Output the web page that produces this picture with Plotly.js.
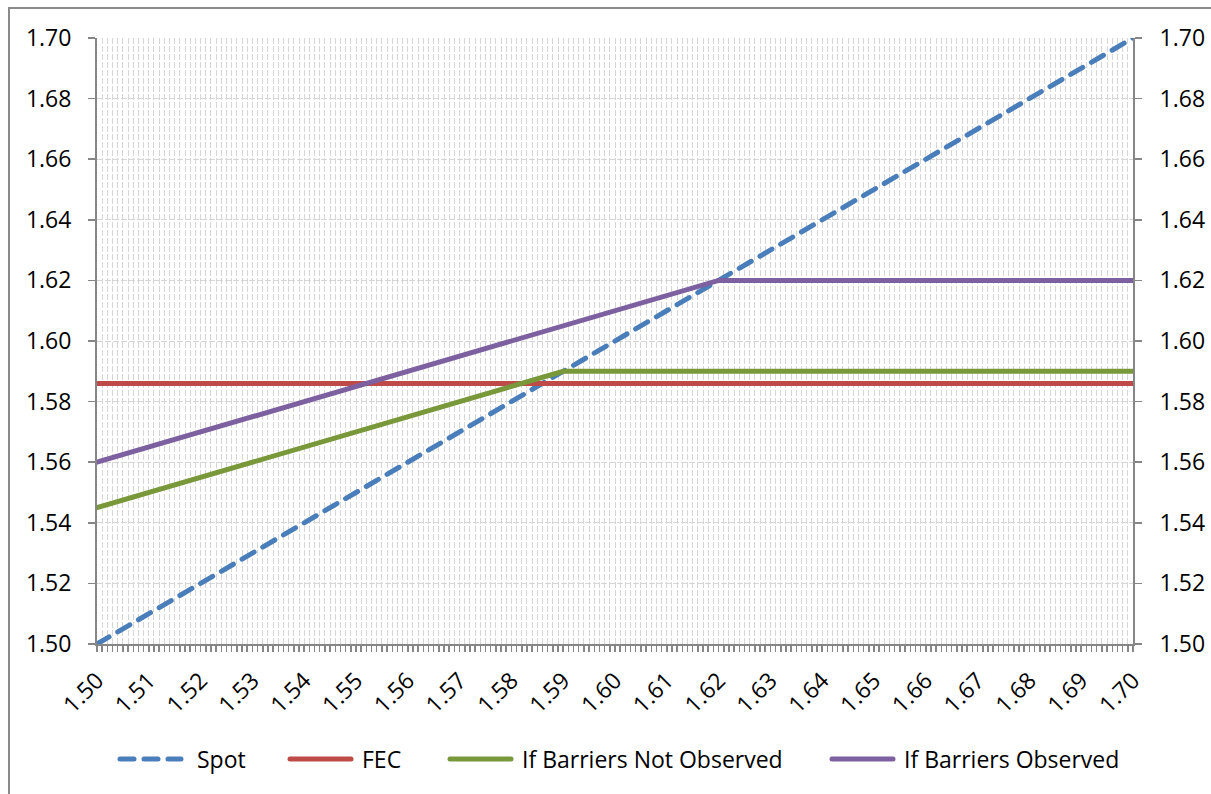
<!DOCTYPE html>
<html>
<head>
<meta charset="utf-8">
<script src="https://cdn.plot.ly/plotly-3.0.1.min.js"></script>
<style>
  html, body { margin: 0; padding: 0; background: #fff; overflow: hidden; }
  #frame { position: absolute; left: 8px; top: 7px; width: 1400px; height: 1000px;
           border-left: 2px solid #8a8a8a; border-top: 2px solid #8a8a8a; pointer-events: none; z-index: 5; }
  #chart { position: absolute; left: 0; top: 0; width: 1211px; height: 794px; }
  .scatterlayer path.js-line, .shapelayer path { stroke-linecap: round; }
</style>
</head>
<body>
<div id="chart"></div>
<div id="frame"></div>
<script>
// Exchange-rate outcome at maturity for each spot level
const spotLevels = [1.50, 1.51, 1.52, 1.53, 1.54, 1.55, 1.56, 1.57, 1.58, 1.59, 1.60,
                    1.61, 1.62, 1.63, 1.64, 1.65, 1.66, 1.67, 1.68, 1.69, 1.70];

const spotRate = [1.500, 1.510, 1.520, 1.530, 1.540, 1.550, 1.560, 1.570, 1.580, 1.590, 1.600,
                  1.610, 1.620, 1.630, 1.640, 1.650, 1.660, 1.670, 1.680, 1.690, 1.700];

const fecRate = [1.586, 1.586, 1.586, 1.586, 1.586, 1.586, 1.586, 1.586, 1.586, 1.586, 1.586,
                 1.586, 1.586, 1.586, 1.586, 1.586, 1.586, 1.586, 1.586, 1.586, 1.586];

const barriersNotObserved = [1.545, 1.550, 1.555, 1.560, 1.565, 1.570, 1.575, 1.580, 1.585, 1.590, 1.590,
                             1.590, 1.590, 1.590, 1.590, 1.590, 1.590, 1.590, 1.590, 1.590, 1.590];

const barriersObserved = [1.560, 1.565, 1.570, 1.575, 1.580, 1.585, 1.590, 1.595, 1.600, 1.605, 1.610,
                          1.615, 1.620, 1.620, 1.620, 1.620, 1.620, 1.620, 1.620, 1.620, 1.620];

const seriesNames = ['Spot', 'FEC', 'If Barriers Not Observed', 'If Barriers Observed'];
const seriesColors = ['#4A7EBB', '#BE4B48', '#78983A', '#7D60A0'];
const seriesData = [spotRate, fecRate, barriersNotObserved, barriersObserved];

const FONT = '"Open Sans", Lato, sans-serif';
const FSIZE = 23;
const DASH = '14px,10px';

const traces = seriesData.map((vals, i) => ({
  x: spotLevels,
  y: vals,
  name: seriesNames[i],
  type: 'scatter',
  mode: 'lines',
  line: { color: seriesColors[i], width: 5, dash: i === 0 ? DASH : 'solid' },
  showlegend: false,
  hoverinfo: 'x+y+name'
}));

// mirror axis on the right
traces.push({
  x: spotLevels, y: spotRate, yaxis: 'y2', type: 'scatter', mode: 'none',
  showlegend: false, hoverinfo: 'skip'
});

// Plot area in pixels
const W = 1211, H = 794;
const L = 97, R = 1133, T = 38, B = 644;
const px = v => (v - L) / (R - L);
const py = v => (B - v) / (B - T);

// Legend drawn under the axis
const legendStarts = [118, 288, 448, 830];
const legendY = 759;
const sampleLen = 65;
const shapes = [];
const annotations = [];
seriesNames.forEach((name, i) => {
  const x0 = legendStarts[i];
  shapes.push({
    type: 'line', xref: 'paper', yref: 'paper',
    x0: px(x0 + 2), x1: px(x0 + sampleLen - 2), y0: py(legendY), y1: py(legendY),
    line: { color: seriesColors[i], width: 5, dash: i === 0 ? DASH : 'solid' }
  });
  annotations.push({
    xref: 'paper', yref: 'paper', x: px(x0 + sampleLen + (i === 0 ? 12 : 7)), y: py(legendY),
    xanchor: 'left', yanchor: 'middle', showarrow: false, text: name,
    font: { family: FONT, size: FSIZE, color: '#000' }
  });
});

const axisLine = '#868686';
const gridCol = '#D6D6D6';

const layout = {
  width: W, height: H,
  margin: { l: L, r: W - R, t: T, b: H - B, pad: 0 },
  paper_bgcolor: '#fff',
  plot_bgcolor: '#fff',
  font: { family: FONT, size: FSIZE, color: '#000' },
  showlegend: false,
  xaxis: {
    range: [1.5, 1.7],
    tickvals: spotLevels,
    ticktext: spotLevels.map(v => v.toFixed(2)),
    tickangle: -45,
    ticks: 'outside', ticklen: 6, tickwidth: 1.5, tickcolor: axisLine,
    showline: true, linecolor: axisLine, linewidth: 2,
    showgrid: true, gridcolor: gridCol, gridwidth: 1, griddash: '6px,2px',
    zeroline: false,
    ticklabelstandoff: 6,
    tickfont: { family: FONT, size: FSIZE, color: '#000' },
    minor: {
      dtick: 0.001, tick0: 1.5,
      ticks: 'outside', ticklen: 6, tickwidth: 1.5, tickcolor: axisLine,
      showgrid: true, gridcolor: gridCol, gridwidth: 1, griddash: '6px,2px'
    }
  },
  yaxis: {
    range: [1.5, 1.7],
    dtick: 0.02, tick0: 1.5, tickformat: '.2f',
    ticks: 'outside', ticklen: 7, tickwidth: 1.5, tickcolor: axisLine,
    showline: true, linecolor: axisLine, linewidth: 2,
    showgrid: true, gridcolor: gridCol, gridwidth: 1, griddash: '6px,2px',
    zeroline: false,
    ticklabelstandoff: 12,
    tickfont: { family: FONT, size: FSIZE, color: '#000' }
  },
  yaxis2: {
    range: [1.5, 1.7],
    overlaying: 'y', side: 'right',
    dtick: 0.02, tick0: 1.5, tickformat: '.2f',
    ticks: 'outside', ticklen: 7, tickwidth: 1.5, tickcolor: axisLine,
    showline: true, linecolor: axisLine, linewidth: 2,
    showgrid: false, zeroline: false,
    ticklabelstandoff: 13,
    tickfont: { family: FONT, size: FSIZE, color: '#000' }
  },
  shapes: shapes,
  annotations: annotations
};

Plotly.newPlot('chart', traces, layout, { staticPlot: true, displayModeBar: false });
</script>
</body>
</html>
